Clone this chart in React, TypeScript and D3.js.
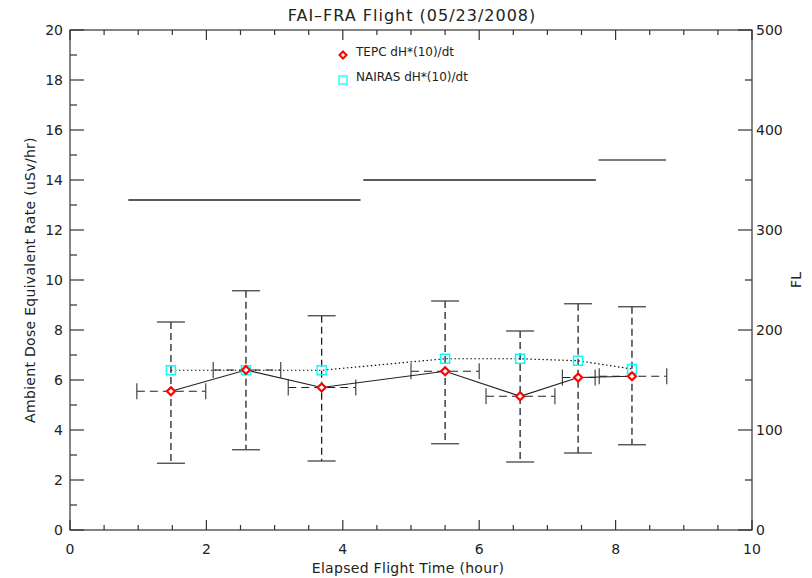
import React from "react";
import * as d3 from "d3";

// ---- data ----
const times = [1.48, 2.58, 3.69, 5.5, 6.6, 7.45, 8.24];
const tepc = [5.55, 6.4, 5.7, 6.35, 5.35, 6.1, 6.15];
const nairas = [6.39, 6.39, 6.39, 6.85, 6.85, 6.77, 6.44];
const errHigh = [8.32, 9.57, 8.57, 9.16, 7.96, 9.05, 8.93];
const errLow = [2.67, 3.21, 2.76, 3.45, 2.72, 3.08, 3.41];
const tStart = [0.98, 2.1, 3.2, 5.0, 6.1, 7.22, 7.76];
const tEnd = [1.99, 3.09, 4.19, 6.0, 7.11, 7.7, 8.75];
const flStart = [0.855, 4.3, 7.75];
const flEnd = [4.26, 7.71, 8.74];
const flLevel = [330, 350, 370];
const xTicks = [0, 2, 4, 6, 8, 10];
const yTicks = [0, 2, 4, 6, 8, 10, 12, 14, 16, 18, 20];
const flTicks = [0, 100, 200, 300, 400, 500];
const title = "FAI\u2013FRA Flight (05/23/2008)";
const xTitle = "Elapsed Flight Time (hour)";
const yTitle = "Ambient Dose Equivalent Rate (uSv/hr)";
const y2Title = "FL";
const legendLabels = ["TEPC dH*(10)/dt", "NAIRAS dH*(10)/dt"];

const W = 812, H = 578;
const L = 70, R = 752, T = 30, B = 530;
const FONT = "DejaVu Sans, sans-serif";
const AX = "#333";

export default function App() {
  const x = d3.scaleLinear().domain([0, 10]).range([L, R]);
  const y = d3.scaleLinear().domain([0, 20]).range([B, T]);
  const yR = d3.scaleLinear().domain([0, 500]).range([B, T]);

  const xMinor = d3.range(0, 10.001, 0.5).filter((v) => Math.abs(v % 2) > 1e-6);
  const yMinor = d3.range(1, 20, 2);
  const flMinor = d3.range(50, 500, 100);

  const tepcLine = d3.line<number>().x((_, i) => x(times[i])).y((d) => y(d))(tepc) || "";
  const nairasLine = d3.line<number>().x((_, i) => x(times[i])).y((d) => y(d))(nairas) || "";

  const diamond = (cx: number, cy: number, r = 4) =>
    `M${cx},${cy - r}L${cx + r},${cy}L${cx},${cy + r}L${cx - r},${cy}Z`;

  return (
    <svg width={W} height={H} style={{ position: "absolute", left: 0, top: 0, background: "#fff" }} fontFamily={FONT}>
      {/* title */}
      <text x={(L + R) / 2 + 1} y={21} textAnchor="middle" fontSize={16} letterSpacing={1} fill="#222">{title}</text>

      {/* flight level segments */}
      {flLevel.map((f, i) => (
        <line key={"fl" + i} x1={x(flStart[i])} x2={x(flEnd[i])} y1={yR(f)} y2={yR(f)}
          stroke={i === 2 ? "#555" : "#222"} strokeWidth={1.3} />
      ))}

      {/* vertical error bars */}
      {times.map((t, i) => (
        <g key={"ve" + i}>
          <line x1={x(t)} x2={x(t)} y1={y(errHigh[i])} y2={y(errLow[i])} stroke="#111" strokeWidth={1.2} strokeDasharray="7,4" />
          <line x1={x(t) - 14} x2={x(t) + 14} y1={y(errHigh[i])} y2={y(errHigh[i])} stroke="#444" strokeWidth={1.3} />
          <line x1={x(t) - 14} x2={x(t) + 14} y1={y(errLow[i])} y2={y(errLow[i])} stroke="#444" strokeWidth={1.3} />
        </g>
      ))}

      {/* horizontal error bars */}
      {times.map((t, i) => (
        <g key={"he" + i}>
          <line x1={x(tStart[i])} x2={x(tEnd[i])} y1={y(tepc[i])} y2={y(tepc[i])} stroke="#222" strokeWidth={1.2} strokeDasharray="8,5" />
          <line x1={x(tStart[i])} x2={x(tStart[i])} y1={y(tepc[i]) - 8} y2={y(tepc[i]) + 8} stroke="#444" strokeWidth={1.2} />
          <line x1={x(tEnd[i])} x2={x(tEnd[i])} y1={y(tepc[i]) - 8} y2={y(tepc[i]) + 8} stroke="#444" strokeWidth={1.2} />
        </g>
      ))}

      {/* lines */}
      <path d={tepcLine} fill="none" stroke="#222" strokeWidth={1.2} />
      <path d={nairasLine} fill="none" stroke="#111" strokeWidth={1.2} strokeDasharray="1.5,2.5" />

      {/* markers */}
      {times.map((t, i) => (
        <rect key={"nm" + i} x={x(t) - 4.5} y={y(nairas[i]) - 4.5} width={9} height={9} fill="none" stroke="#00ffff" strokeWidth={1.5} />
      ))}
      {times.map((t, i) => (
        <path key={"tm" + i} d={diamond(x(t), y(tepc[i]))} fill="white" stroke="#ff0000" strokeWidth={2.2} />
      ))}

      {/* legend */}
      <path d={diamond(343, 55, 3.5)} fill="white" stroke="#ff0000" strokeWidth={2} />
      <text x={356} y={56} fontSize={12} fill="#222">{legendLabels[0]}</text>
      <rect x={339} y={76} width={8} height={8} fill="none" stroke="#00ffff" strokeWidth={1.3} />
      <text x={356} y={81} fontSize={12} fill="#222">{legendLabels[1]}</text>

      {/* frame */}
      <rect x={L} y={T} width={R - L} height={B - T} fill="none" stroke={AX} strokeWidth={1.2} />

      {/* x ticks bottom & top */}
      {xTicks.map((v) => (
        <g key={"xt" + v}>
          <line x1={x(v)} x2={x(v)} y1={B} y2={B - 10} stroke={AX} strokeWidth={1.2} />
          <line x1={x(v)} x2={x(v)} y1={T} y2={T + 10} stroke={AX} strokeWidth={1.2} />
          <text x={x(v)} y={554} textAnchor="middle" fontSize={14} fill="#222">{v}</text>
        </g>
      ))}
      {xMinor.map((v) => (
        <g key={"xm" + v}>
          <line x1={x(v)} x2={x(v)} y1={B} y2={B - 5} stroke={AX} strokeWidth={1.2} />
          <line x1={x(v)} x2={x(v)} y1={T} y2={T + 5} stroke={AX} strokeWidth={1.2} />
        </g>
      ))}
      <text x={(L + R) / 2 - 3} y={573} textAnchor="middle" fontSize={14} letterSpacing={0.3} fill="#222">{xTitle}</text>

      {/* y ticks left */}
      {yTicks.map((v) => (
        <g key={"yt" + v}>
          <line x1={L} x2={L + 14} y1={y(v)} y2={y(v)} stroke={AX} strokeWidth={1.2} />
          <text x={L - 7} y={y(v) + 5} textAnchor="end" fontSize={14} fill="#222">{v}</text>
        </g>
      ))}
      {yMinor.map((v) => (
        <line key={"ym" + v} x1={L} x2={L + 7} y1={y(v)} y2={y(v)} stroke={AX} strokeWidth={1.2} />
      ))}
      <text transform={`translate(35,${(T + B) / 2}) rotate(-90)`} textAnchor="middle" fontSize={14} letterSpacing={0.3} fill="#222">{yTitle}</text>

      {/* right axis */}
      {flTicks.map((v) => (
        <g key={"ft" + v}>
          <line x1={R} x2={R - 14} y1={yR(v)} y2={yR(v)} stroke={AX} strokeWidth={1.2} />
          <text x={R + 4} y={yR(v) + 5} textAnchor="start" fontSize={14} fill="#222">{v}</text>
        </g>
      ))}
      {flMinor.map((v) => (
        <line key={"fm" + v} x1={R} x2={R - 7} y1={yR(v)} y2={yR(v)} stroke={AX} strokeWidth={1.2} />
      ))}
      <text transform={`translate(801,${(T + B) / 2}) rotate(-90)`} textAnchor="middle" fontSize={14} fill="#222">{y2Title}</text>
    </svg>
  );
}
